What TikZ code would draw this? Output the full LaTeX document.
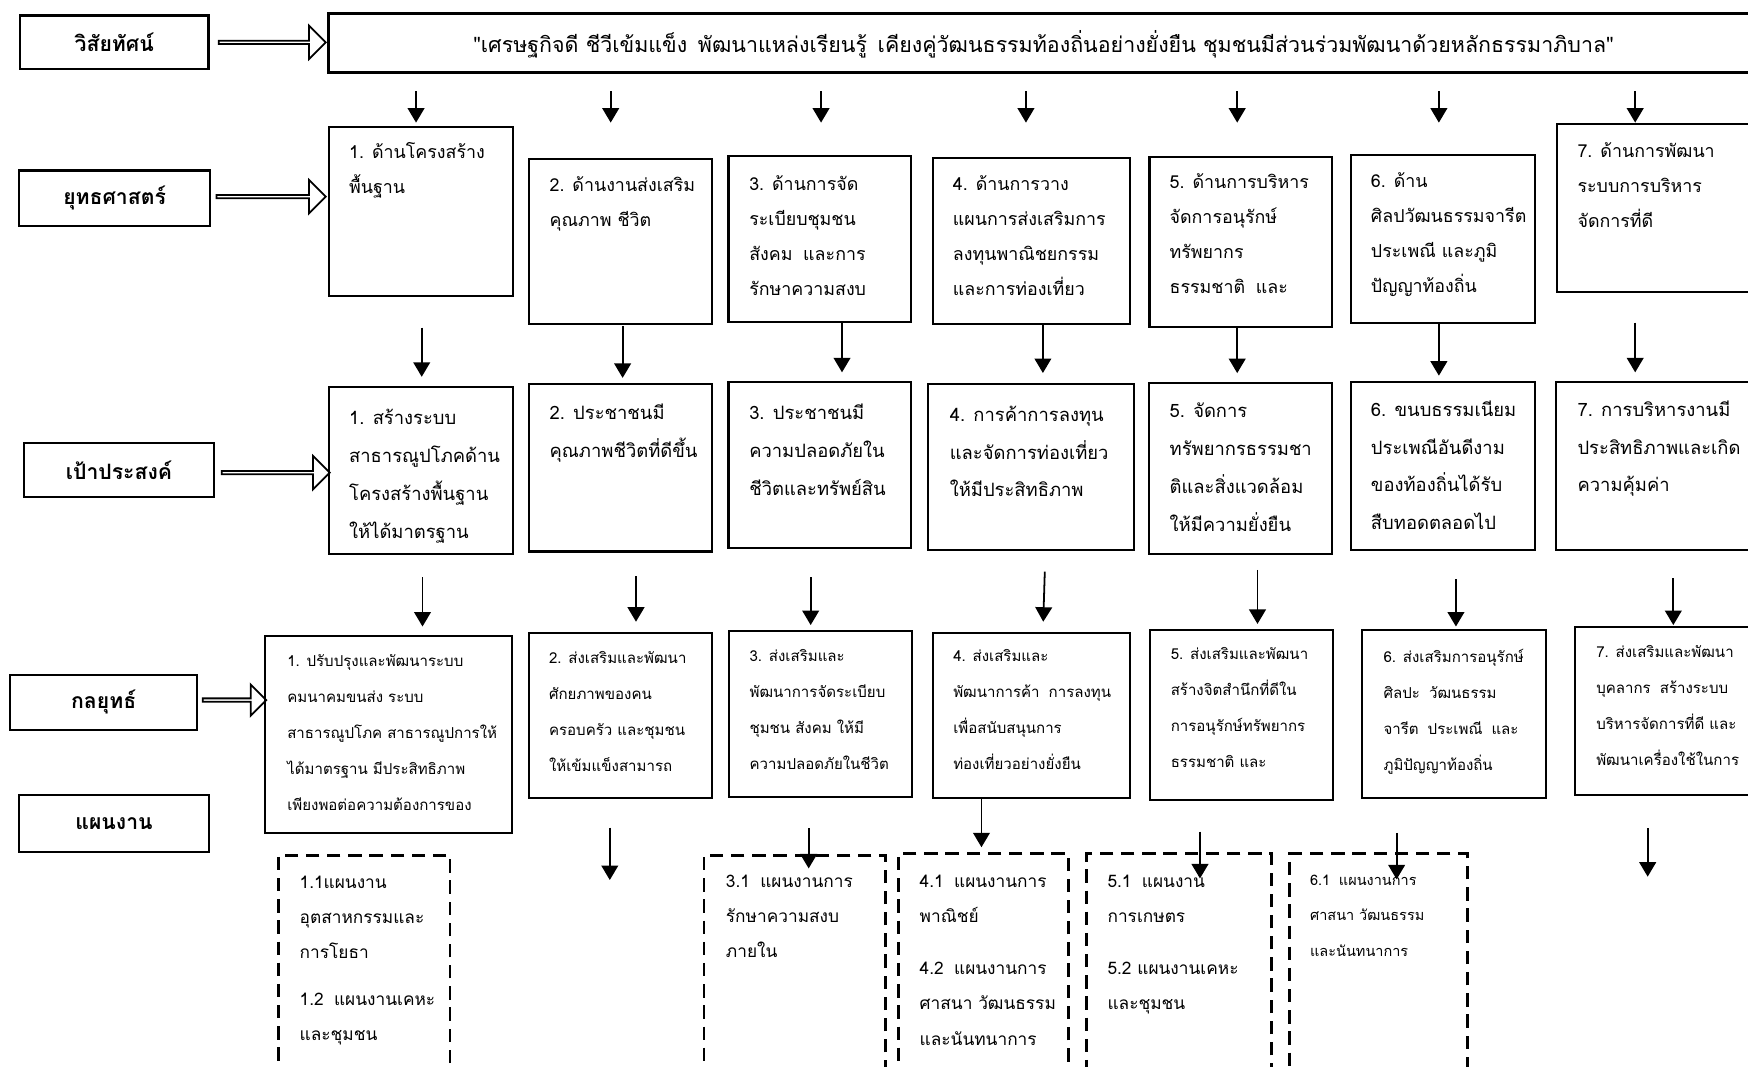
\documentclass[tikz,border=0pt]{standalone}
\usepackage{fontspec}
\newfontfamily\thai[Script=Thai]{Loma}
\usetikzlibrary{arrows.meta,shapes.arrows}
\newcommand\bx[6][box]{\node[#1,minimum width={(#5-#3)*1pt},minimum height={(#6-#4)*1pt}] (#2) at ({(#3+#5)/2},{(#4+#6)/2}) {};}
% text block: first line's baseline at the given point; rows separated by \cr
\newcommand\tx[5]{\node[#4,anchor=base west] (#1) at (#2,#3) {\vtop{\halign{##\hfil\cr #5\crcr}}};}
\newcommand\gap[1]{\noalign{\vskip #1}}
\begin{document}
\begin{tikzpicture}[x=1pt,y=-1pt,
 box/.style={draw,line width=2pt,inner sep=0pt,outer sep=0pt},
 vbox/.style={draw,line width=3.2pt,inner sep=0pt,outer sep=0pt},
 dbox/.style={draw,line width=2.6pt,dash pattern=on 12pt off 7pt,inner sep=0pt,outer sep=0pt},
 lab/.style={draw,line width=2pt,font=\thai\bfseries\fontsize{19}{22}\selectfont,inner sep=0pt},
 stxt/.style={inner sep=0pt,font=\thai\fontsize{16}{31.4}\selectfont},
 gtxt/.style={inner sep=0pt,font=\thai\fontsize{16.5}{34}\selectfont},
 ttxt/.style={inner sep=0pt,font=\thai\fontsize{13.5}{32.3}\selectfont},
 ptxt/.style={inner sep=0pt,font=\thai\fontsize{15.5}{31.6}\selectfont},
 p6txt/.style={inner sep=0pt,font=\thai\fontsize{13}{32}\selectfont},
 arr/.style={line width=1.6pt,-{Triangle[length=13pt,width=15pt]}},
 barr/.style={single arrow,draw,line width=1.6pt,inner sep=0pt,minimum width=30pt,single arrow head extend=7.5pt},
]
\useasboundingbox (0,0) rectangle (1568,957);

% row labels
\node[lab,minimum width=169pt,minimum height=48pt] (L1) at (102.5,38) {วิสัยทัศน์};
\node[lab,minimum width=171pt,minimum height=50pt] (L2) at (102.8,178) {ยุทธศาสตร์};
\node[lab,minimum width=170pt,minimum height=48pt] (L3) at (106.7,421.5) {เป้าประสงค์};
\node[lab,minimum width=168pt,minimum height=49pt] (L4) at (93,630) {กลยุทธ์};
\node[lab,minimum width=170pt,minimum height=51pt] (L5) at (102.3,738.5) {แผนงาน};

% block arrows
\node[barr,minimum height=96pt] (BA1) at (243.5,38) {};
\node[barr,minimum height=98pt] (BA2) at (242.5,176.4) {};
\node[barr,minimum height=97pt] (BA3) at (246.6,424) {};
\node[barr,minimum height=57pt,minimum width=28pt,single arrow head extend=6.5pt] (BA4) at (209.6,628) {};

% vision
\bx[vbox]{V}{294.6}{12}{1600}{65}
\node[font=\thai\fontsize{19.2}{19}\selectfont,inner sep=0pt] (VT) at (936,40) {"เศรษฐกิจดี ชีวีเข้มแข็ง\hspace{0.5em}พัฒนาแหล่งเรียนรู้\hspace{0.5em}เคียงคู่วัฒนธรรมท้องถิ่นอย่างยั่งยืน ชุมชนมีส่วนร่วมพัฒนาด้วยหลักธรรมาภิบาล"};

% strategy boxes
\bx{S1}{295.3}{113.6}{460}{265.2}
\bx{S2}{474.4}{142.3}{639}{290.6}
\bx{S3}{653.5}{140}{817.4}{289}
\bx{S4}{837}{141.4}{1013.4}{290.6}
\bx{S5}{1031.2}{140.5}{1195.1}{293.6}
\bx{S6}{1212.1}{139}{1376.7}{290}
\bx{S7}{1396.4}{111.2}{1600}{262.2}
\tx{S1t}{313}{142.5}{stxt}{1. ด้านโครงสร้าง\cr พื้นฐาน}
\tx{S2t}{492.8}{171.8}{stxt}{2. ด้านงานส่งเสริม\cr คุณภาพ ชีวิต}
\tx{S3t}{671.9}{171}{stxt}{3. ด้านการจัด\cr ระเบียบชุมชน\cr สังคม\hspace{0.6em}และการ\cr รักษาความสงบ}
\tx{S4t}{854.6}{171}{stxt}{4. ด้านการวาง\cr แผนการส่งเสริมการ\cr ลงทุนพาณิชยกรรม\cr และการท่องเที่ยว}
\tx{S5t}{1049}{169.4}{stxt}{5. ด้านการบริหาร\cr จัดการอนุรักษ์\cr ทรัพยากร\cr ธรรมชาติ\hspace{0.6em}และ}
\tx{S6t}{1229.6}{168}{stxt}{6. ด้าน\cr ศิลปวัฒนธรรมจารีต\cr ประเพณี และภูมิ\cr ปัญญาท้องถิ่น}
\tx{S7t}{1414.9}{141}{stxt}{7. ด้านการพัฒนา\cr ระบบการบริหาร\cr จัดการที่ดี}

% goal boxes
\bx{G1}{295.3}{347}{460}{497}
\bx{G2}{474.4}{344.5}{639}{494.8}
\bx{G3}{653.5}{343}{817.4}{491.7}
\bx{G4}{832.7}{344.5}{1017.5}{493.4}
\bx{G5}{1031}{343.8}{1195}{497}
\bx{G6}{1212}{342.4}{1377}{493.4}
\bx{G7}{1396}{343}{1600}{493.4}
\tx{G1t}{313}{380.7}{gtxt}{1. สร้างระบบ\cr สาธารณูปโภคด้าน\cr โครงสร้างพื้นฐาน\cr ให้ได้มาตรฐาน}
\tx{G2t}{492.8}{376.3}{gtxt}{2. ประชาชนมี\cr คุณภาพชีวิตที่ดีขึ้น}
\tx{G3t}{671.9}{376.3}{gtxt}{3. ประชาชนมี\cr ความปลอดภัยใน\cr ชีวิตและทรัพย์สิน}
\tx{G4t}{851.8}{377.8}{gtxt}{4. การค้าการลงทุน\cr และจัดการท่องเที่ยว\cr ให้มีประสิทธิภาพ}
\tx{G5t}{1049}{374.8}{gtxt}{5. จัดการ\cr ทรัพยากรธรรมชา\cr ติและสิ่งแวดล้อม\cr ให้มีความยั่งยืน}
\tx{G6t}{1229.6}{373.3}{gtxt}{6. ขนบธรรมเนียม\cr ประเพณีอันดีงาม\cr ของท้องถิ่นได้รับ\cr สืบทอดตลอดไป}
\tx{G7t}{1414.9}{373.3}{gtxt}{7. การบริหารงานมี\cr ประสิทธิภาพและเกิด\cr ความคุ้มค่า}

% tactic boxes
\bx{T1}{238}{570.5}{459.3}{747.5}
\bx{T2}{474.5}{567.5}{638.5}{716}
\bx{T3}{653.8}{566}{818.3}{714.6}
\bx{T4}{837.2}{567.5}{1013.5}{715.5}
\bx{T5}{1031.6}{565}{1195.4}{717.6}
\bx{T6}{1222}{565}{1386.8}{716}
\bx{T7}{1412.8}{562.7}{1600}{713}
\tx{T1t}{257.5}{598}{ttxt}{1. ปรับปรุงและพัฒนาระบบ\cr คมนาคมขนส่ง ระบบ\cr สาธารณูปโภค สาธารณูปการให้\cr ได้มาตรฐาน มีประสิทธิภาพ\cr เพียงพอต่อความต้องการของ}
\tx{T2t}{492.3}{595}{ttxt}{2. ส่งเสริมและพัฒนา\cr ศักยภาพของคน\cr ครอบครัว และชุมชน\cr ให้เข้มแข็งสามารถ}
\tx{T3t}{672.2}{593.5}{ttxt}{3. ส่งเสริมและ\cr พัฒนาการจัดระเบียบ\cr ชุมชน สังคม ให้มี\cr ความปลอดภัยในชีวิต}
\tx{T4t}{854.9}{593.5}{ttxt}{4. ส่งเสริมและ\cr พัฒนาการค้า\hspace{0.6em}การลงทุน\cr เพื่อสนับสนุนการ\cr ท่องเที่ยวอย่างยั่งยืน}
\tx{T5t}{1050}{592}{ttxt}{5. ส่งเสริมและพัฒนา\cr สร้างจิตสำนึกที่ดีใน\cr การอนุรักษ์ทรัพยากร\cr ธรรมชาติ และ}
\tx{T6t}{1240.9}{594}{ttxt}{6. ส่งเสริมการอนุรักษ์\cr ศิลปะ\hspace{0.6em}วัฒนธรรม\cr จารีต\hspace{0.6em}ประเพณี\hspace{0.6em}และ\cr ภูมิปัญญาท้องถิ่น}
\tx{T7t}{1431.7}{590}{ttxt}{7. ส่งเสริมและพัฒนา\cr บุคลากร\hspace{0.6em}สร้างระบบ\cr บริหารจัดการที่ดี และ\cr พัฒนาเครื่องใช้ในการ}

% plan boxes (dashed)
\bx[dbox]{P1}{250}{767}{403.7}{990}
\bx[dbox]{P3}{631.5}{767}{794.6}{990}
\bx[dbox]{P4}{806.3}{765.6}{958.5}{990}
\bx[dbox]{P5}{974.8}{765.6}{1140.5}{990}
\bx[dbox]{P6}{1156.3}{766}{1316.2}{990}
\tx{P1t}{268.6}{797}{ptxt}{1.1แผนงาน\cr อุตสาหกรรมและ\cr การโยธา\cr\gap{10pt} 1.2\hspace{0.6em}แผนงานเคหะ\cr และชุมชน}
\tx{P3t}{651}{796}{ptxt}{3.1\hspace{0.6em}แผนงานการ\cr รักษาความสงบ\cr ภายใน}
\tx{P4t}{824.8}{796}{ptxt}{4.1\hspace{0.6em}แผนงานการ\cr พาณิชย์\cr\gap{15pt} 4.2\hspace{0.6em}แผนงานการ\cr ศาสนา วัฒนธรรม\cr และนันทนาการ}
\tx{P5t}{993.3}{796}{ptxt}{5.1\hspace{0.6em}แผนงาน\cr การเกษตร\cr\gap{15pt} 5.2 แผนงานเคหะ\cr และชุมชน}
\tx{P6t}{1175}{794}{p6txt}{6.1\hspace{0.6em}แผนงานการ\cr ศาสนา วัฒนธรรม\cr และนันทนาการ}

% arrows vision -> strategies
\foreach \n/\x in {1/373.2,2/547.8,3/736.5,4/920.3,5/1109.8,6/1290.7,7/1466.8}{
  \coordinate (a\n s) at (\x,82); \coordinate (a\n e) at (\x,110);
  \draw[arr] (a\n s) -- (a\n e);}
% strategies -> goals
\foreach \n/\x/\ya/\yb in {1/378.3/294/338,2/558.5/292.4/339,3/755.3/289.4/334,4/935.5/290.6/334.6,5/1109.8/293.6/334.7,6/1290.7/290/337,7/1466.8/289.4/334}{
  \coordinate (b\n s) at (\x,\ya); \coordinate (b\n e) at (\x,\yb);
  \draw[arr] (b\n s) -- (b\n e);}
% goals -> tactics
\foreach \n/\x/\ya/\yb in {1/379/517.9/562,2/570.5/516.7/557.7,3/727.2/517.9/560.7,5/1128/511.3/559.7,6/1306/519.7/562,7/1501/518.8/560.7}{
  \coordinate (c\n s) at (\x,\ya); \coordinate (c\n e) at (\x,\yb);
  \draw[arr] (c\n s) -- (c\n e);}
\coordinate (c4s) at (937.2,512.8); \coordinate (c4e) at (935.8,557.7);
\draw[arr] (c4s) -- (c4e);
% tactics -> plans
\foreach \n/\x/\ya/\yb in {2/547/742.4/789.4,3/725.4/743/779,4/880.4/715.5/760,5/1076.4/746/788,6/1252.8/747/788.8,7/1478/743/786.4}{
  \coordinate (d\n s) at (\x,\ya); \coordinate (d\n e) at (\x,\yb);
  \draw[arr] (d\n s) -- (d\n e);}
\end{tikzpicture}
\end{document}
